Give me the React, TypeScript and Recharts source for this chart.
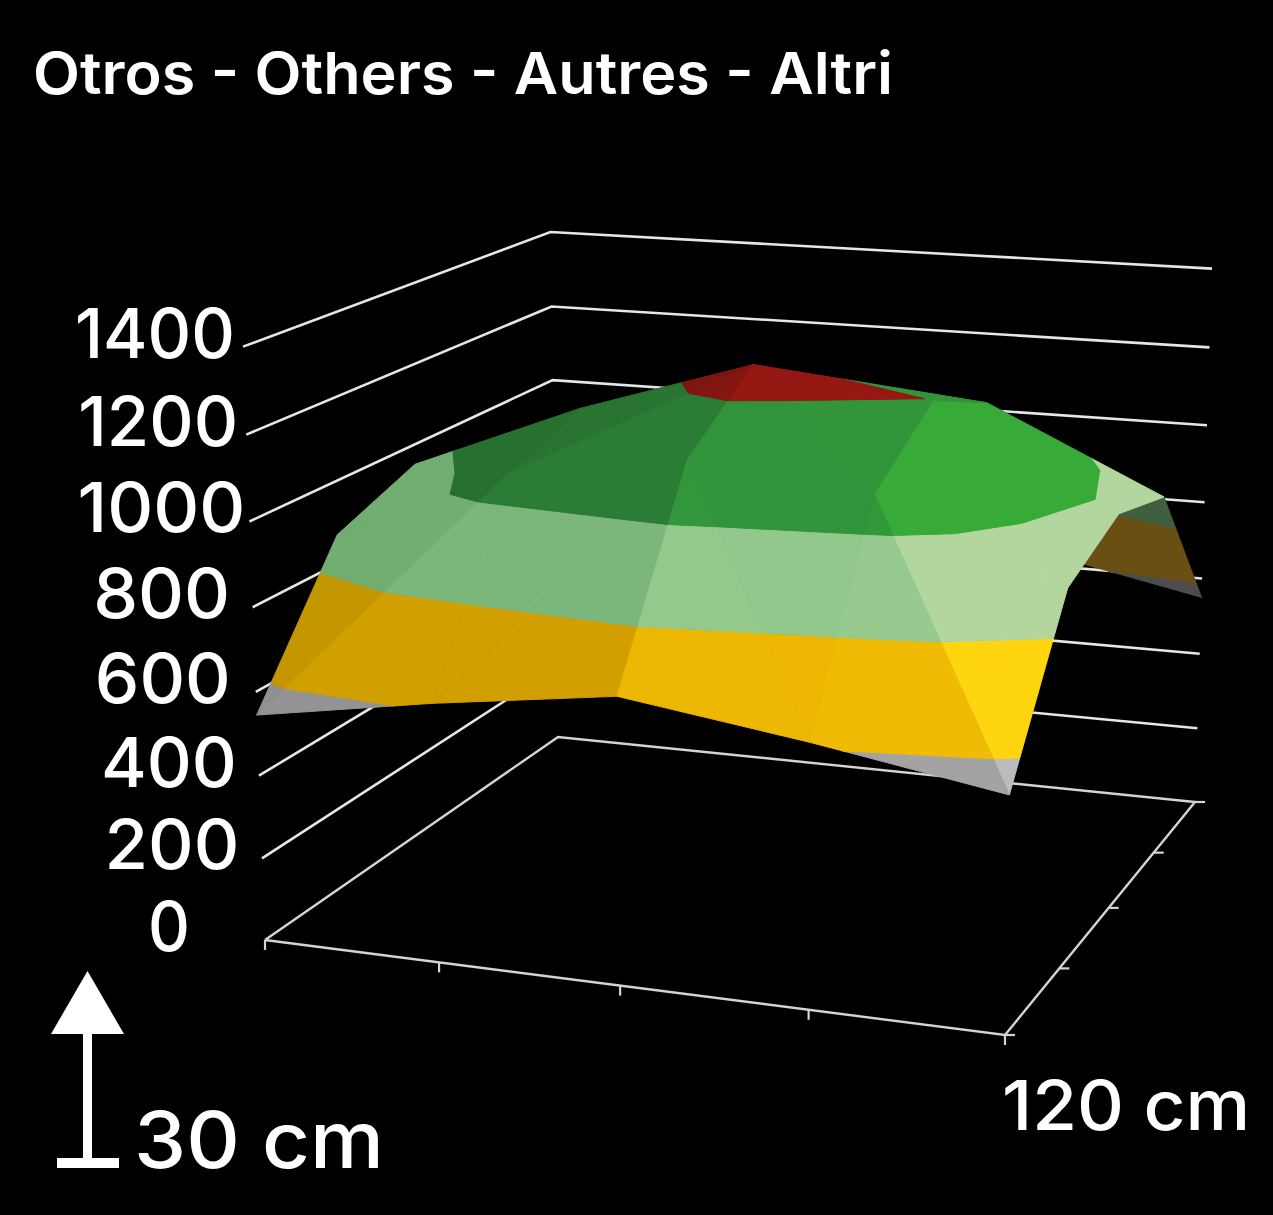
import { ScatterChart, Scatter, XAxis, YAxis } from 'recharts';

const W = 1273;
const H = 1215;

// surface height, one row per 30 cm going back
const row0 = [545, 615, 673, 612, 540];
const row1 = [870, 1050, 1115, 1064, 887];
const row2 = [950, 1120, 1255, 1197, 960];
const row3 = [800, 1000, 1130, 1110, 907];
const row4 = [650, 650, 660, 640, 550];
const rows = [row0, row1, row2, row3, row4];

const zTicks = [0, 200, 400, 600, 800, 1000, 1200, 1400];
const gridTicks = [0, 1, 2, 3, 4];
const levels = [0, 600, 800, 990, 1200, 1400];
const bandDim = ['#8f8f8f', '#c49600', '#72ae72', '#287030', '#7a1510'];
const bandMid = ['#999999', '#e8b000', '#8cc587', '#30903a', '#931812'];
const bandBright = ['#bcbcbc', '#ffd510', '#b2d69e', '#38aa38', '#a01a12'];
const bandBack = ['#4d4d4d', '#6a4f14', '#3f5f3f', '#1c4020', '#401010'];
const title = 'Otros - Others - Autres - Altri';

// shade against the slope along x: [dz per cell, brightness]
const shadeStops = [[170, 0], [75, 0.18], [53, 0.18], [-34, 0.52], [-99, 0.74], [-177, 1]];

// label placement, offset from the wall end and text width
const labelDx: Record<string, number> = { '0': -96, '200': -90, '400': -90, '600': -93, '800': -91, '1000': -88, '1200': -88, '1400': -88 };
const labelWidth: Record<string, number> = { '0': 42, '200': 135, '400': 136, '600': 136, '800': 137, '1000': 168, '1200': 160, '1400': 160 };

// camera: floor corners + vertical vanishing point
const [x0, y0] = [265, 940];
const [x1, y1] = [1005, 1035];
const [x2, y2] = [1195, 802];
const [x3, y3] = [558, 737];
const dx1 = x1 - x2, dx2 = x3 - x2, sx = x0 - x1 + x2 - x3;
const dy1 = y1 - y2, dy2 = y3 - y2, sy = y0 - y1 + y2 - y3;
const den = dx1 * dy2 - dx2 * dy1;
const g = (sx * dy2 - dx2 * sy) / den;
const h = (dx1 * sy - sx * dy1) / den;
const a = x1 - x0 + g * x1, b = x3 - x0 + h * x3;
const d = y1 - y0 + g * y1, e = y3 - y0 + h * y3;
const VX = 763, VY = 14374, KZ = -0.0423 / 1400;

function project(i: number, j: number, z: number) {
  const u = i / 4, v = j / 4;
  const k = KZ * z * (1 - 0.01 * u * v);
  const w = g * u + h * v + 1 + k;
  return {
    x: (a * u + b * v + x0 + k * VX) / w,
    y: (d * u + e * v + y0 + k * VY) / w,
  };
}
const floorW = (i: number, j: number) => (g * i) / 4 + (h * j) / 4 + 1;

type V = { i: number; j: number; z: number };

function clip(poly: V[], level: number, keepAbove: boolean) {
  const out: V[] = [];
  poly.forEach((p, n) => {
    const q = poly[(n + 1) % poly.length];
    const pIn = keepAbove ? p.z >= level : p.z <= level;
    const qIn = keepAbove ? q.z >= level : q.z <= level;
    if (pIn) out.push(p);
    if (pIn !== qIn) {
      const t = (level - p.z) / (q.z - p.z);
      out.push({ i: p.i + (q.i - p.i) * t, j: p.j + (q.j - p.j) * t, z: level });
    }
  });
  return out;
}

const hex = (c: string) => [1, 3, 5].map((n) => parseInt(c.slice(n, n + 2), 16));
function mix(c1: string, c2: string, t: number) {
  const A = hex(c1), B = hex(c2);
  return `rgb(${A.map((v, n) => Math.round(v + (B[n] - v) * t)).join(',')})`;
}

function shade(dzdx: number) {
  if (dzdx >= shadeStops[0][0]) return 0;
  for (let n = 1; n < shadeStops.length; n++) {
    const [z1, t1] = shadeStops[n - 1];
    const [z2, t2] = shadeStops[n];
    if (dzdx >= z2) return t1 + ((t2 - t1) * (z1 - dzdx)) / (z1 - z2);
  }
  return 1;
}

function tris() {
  const out: V[][] = [];
  const at = (i: number, j: number): V => ({ i, j, z: rows[j][i] });
  for (let j = 0; j < 4; j++) {
    for (let i = 0; i < 4; i++) {
      const main = (i < 2 && j < 2) || (i >= 2 && j >= 2);
      if (main) {
        out.push([at(i, j), at(i + 1, j), at(i + 1, j + 1)]);
        out.push([at(i, j), at(i + 1, j + 1), at(i, j + 1)]);
      } else {
        out.push([at(i, j), at(i + 1, j), at(i, j + 1)]);
        out.push([at(i + 1, j), at(i + 1, j + 1), at(i, j + 1)]);
      }
    }
  }
  return out.sort((p, q) => {
    const wp = p.reduce((s, v) => s + floorW(v.i, v.j), 0);
    const wq = q.reduce((s, v) => s + floorW(v.i, v.j), 0);
    return wq - wp;
  });
}

const facets: { pts: { x: number; y: number }[]; fill: string }[] = [];
tris().forEach((tri) => {
  const [A, B, C] = tri.map((v) => project(v.i, v.j, v.z));
  const cross = (B.x - A.x) * (C.y - A.y) - (B.y - A.y) * (C.x - A.x);
  // gradient of z over the grid, used for the flat shading
  const m = (tri[1].i - tri[0].i) * (tri[2].j - tri[0].j) - (tri[2].i - tri[0].i) * (tri[1].j - tri[0].j);
  const dzdx = ((tri[1].z - tri[0].z) * (tri[2].j - tri[0].j) - (tri[2].z - tri[0].z) * (tri[1].j - tri[0].j)) / m;
  const t = shade(dzdx);
  levels.slice(0, -1).forEach((lo, n) => {
    const poly = clip(clip(tri, lo, true), levels[n + 1], false);
    if (poly.length < 3) return;
    const front = t < 0.5 ? mix(bandDim[n], bandMid[n], t / 0.5) : mix(bandMid[n], bandBright[n], (t - 0.5) / 0.5);
    const fill = cross < 0 ? front : bandBack[n];
    facets.push({ pts: poly.map((v) => project(v.i, v.j, v.z)), fill });
  });
});

const NoDot = () => <g />;

const polygonLine = (fill: string) => (props: any) => (
  <polygon
    points={props.points.map((p: any) => `${p.x},${p.y}`).join(' ')}
    fill={fill}
    stroke={fill}
    strokeWidth={1}
    strokeLinejoin="round"
  />
);

const strokeSeries = (key: string, data: { x: number; y: number }[], color: string, width: number) => (
  <Scatter
    key={key}
    data={data}
    dataKey="y"
    isAnimationActive={false}
    shape={NoDot}
    line={{ stroke: color, strokeWidth: width }}
    legendType="none"
  />
);

const wallLines = zTicks.slice(1).map((z) => [project(0, 0, z), project(0, 4, z), project(4, 4, z)]);
const floorEdges = [project(0, 0, 0), project(4, 0, 0), project(4, 4, 0), project(0, 4, 0), project(0, 0, 0)];
const zLabels = zTicks.map((z) => ({ ...project(0, 0, z), label: String(z) }));

const ZLabel = (props: any) => {
  const label = props.payload.label;
  return (
    <text
      x={props.cx + labelDx[label]}
      y={props.cy + 11}
      fill="#fff"
      fontFamily="Inter"
      fontWeight={500}
      fontSize={69}
      textAnchor="middle"
      textLength={labelWidth[label]}
      lengthAdjust="spacingAndGlyphs"
    >
      {label}
    </text>
  );
};

export default function App() {
  return (
    <div style={{ position: 'absolute', left: 0, top: 0, width: W, height: H, background: '#000' }}>
      <style>{'body{margin:0;background:#000}'}</style>
      <ScatterChart width={W} height={H} margin={{ top: 0, right: 0, bottom: 0, left: 0 }}>
        <XAxis type="number" dataKey="x" domain={[0, W]} hide />
        <YAxis type="number" dataKey="y" domain={[0, H]} reversed hide />
        {wallLines.map((d, n) => strokeSeries(`wall${n}`, d, '#e6e6e6', 2.6))}
        {strokeSeries('floor', floorEdges, '#d4d4d4', 2.4)}
        {gridTicks.map((n) => {
          const p = project(n, 0, 0);
          return strokeSeries(`xt${n}`, [p, { x: p.x, y: p.y + 10 }], '#d4d4d4', 2.2);
        })}
        {gridTicks.map((n) => {
          const p = project(4, n, 0);
          return strokeSeries(`yt${n}`, [p, { x: p.x + 10, y: p.y }], '#d4d4d4', 2.2);
        })}
        {facets.map((f, n) => (
          <Scatter
            key={`f${n}`}
            data={f.pts}
            dataKey="y"
            isAnimationActive={false}
            shape={NoDot}
            line={polygonLine(f.fill)}
            legendType="none"
          />
        ))}
        <Scatter data={zLabels} dataKey="y" isAnimationActive={false} shape={ZLabel} legendType="none" />
        <text x={33} y={94} fill="#fff" fontFamily="Inter" fontWeight={600} fontSize={58} textLength={860} lengthAdjust="spacingAndGlyphs">
          {title}
        </text>
        <polygon points="87.5,971 51,1034 124,1034" fill="#fff" />
        <rect x={83} y={1034} width={9} height={125} fill="#fff" />
        <rect x={57} y={1158} width={62} height={10} fill="#fff" />
        <text x={134} y={1168} fill="#fff" fontFamily="Inter" fontWeight={500} fontSize={78} textLength={250} lengthAdjust="spacingAndGlyphs">
          30 cm
        </text>
        <text x={1002} y={1130} fill="#fff" fontFamily="Inter" fontWeight={500} fontSize={69} textLength={248} lengthAdjust="spacingAndGlyphs">
          120 cm
        </text>
      </ScatterChart>
    </div>
  );
}
